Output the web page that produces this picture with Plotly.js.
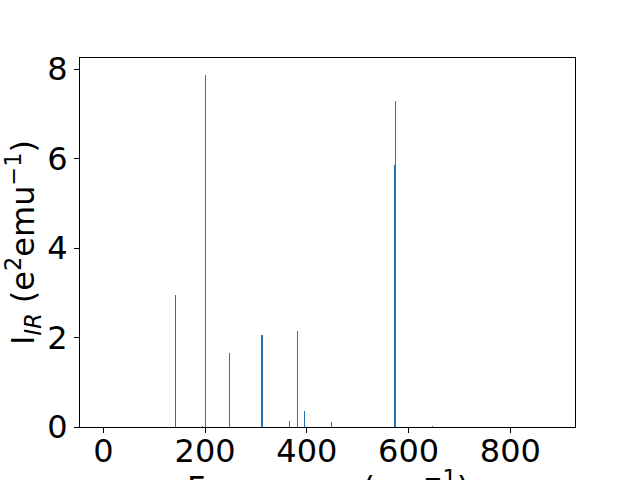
<!DOCTYPE html>
<html>
<head>
<meta charset="utf-8">
<script src="https://cdn.plot.ly/plotly-3.0.1.min.js"></script>
<style>html,body{margin:0;padding:0;background:#fff;}</style>
</head>
<body>
<div id="chart" style="width:640px;height:480px;"></div>
<script>
// Vibrational frequencies (cm^-1) and IR intensities (e^2 emu^-1)
const frequencies = [0, 141, 194, 200, 247, 311, 312.5, 365, 381, 395, 449, 572, 573.5, 574.8, 646, 880];
const intensities = [0, 2.95, 0.02, 7.87, 1.65, 2.06, 2.05, 0.13, 2.15, 0.36, 0.11, 5.85, 5.85, 7.28, 0.03, 0];

const xTicks = [0, 200, 400, 600, 800];
const yTicks = [0, 2, 4, 6, 8];
const xTitle = 'Frequency (cm<sup>−1</sup>)';
const yTitle = 'I<sub><i>IR</i></sub> (e<sup>2</sup>emu<sup>−1</sup>)';

const trace = {
  type: 'bar',
  x: frequencies,
  y: intensities,
  width: 1.8,
  marker: {color: '#1f77b4', line: {width: 0}},
  hoverinfo: 'x+y'
};

const font = {family: 'DejaVu Sans, sans-serif', size: 32, color: '#000'};

const layout = {
  width: 640, height: 480,
  margin: {l: 80, r: 65, t: 58, b: 53, pad: 0},
  paper_bgcolor: '#fff', plot_bgcolor: '#fff',
  showlegend: false,
  bargap: 0,
  font: font,
  xaxis: {
    range: [-46, 927],
    tickvals: xTicks, ticktext: xTicks.map(String),
    ticks: 'outside', ticklen: 5, tickwidth: 1, tickcolor: '#000',
    ticklabelstandoff: -9,
    showline: true, linecolor: '#000', linewidth: 1, mirror: true,
    showgrid: false, zeroline: false,
    tickfont: font,
    automargin: false
  },
  yaxis: {
    range: [0, 8.25],
    tickvals: yTicks, ticktext: yTicks.map(String),
    ticks: 'outside', ticklen: 5, tickwidth: 1, tickcolor: '#000',
    showline: true, linecolor: '#000', linewidth: 1, mirror: true,
    showgrid: false, zeroline: false,
    tickfont: font,
    automargin: false,
    title: {text: yTitle, font: font, standoff: 8}
  },
  annotations: [{
    text: xTitle, xref: 'paper', yref: 'paper', x: 0.5, y: -0.097,
    xanchor: 'center', yanchor: 'top', showarrow: false, font: font
  }]
};

Plotly.newPlot('chart', [trace], layout, {staticPlot: true, displayModeBar: false});
</script>
</body>
</html>
